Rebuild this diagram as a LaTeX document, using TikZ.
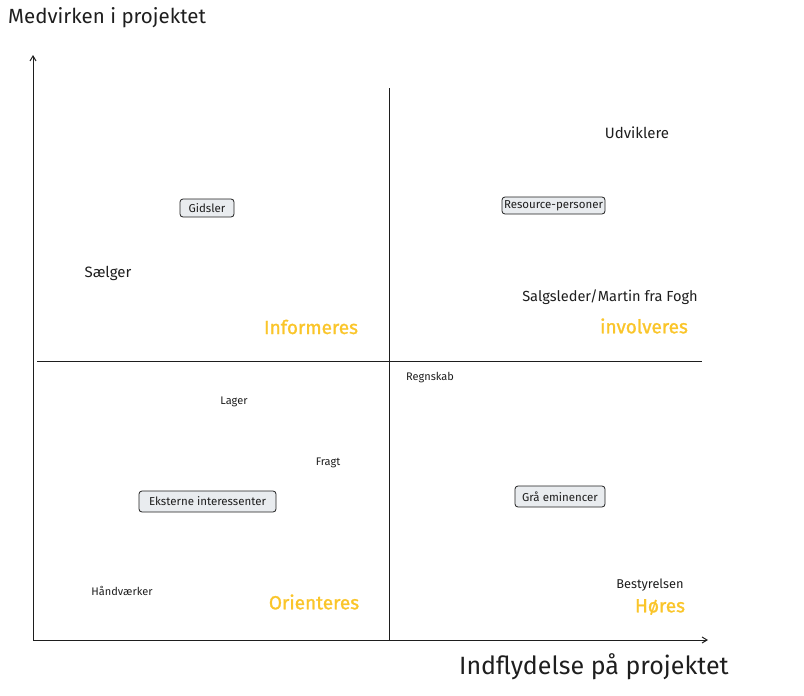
\documentclass[tikz,border=0pt]{standalone}
\usepackage{fontspec}
\setmainfont{Fira Sans}
\newfontfamily\yelfont[FakeBold=1.3]{Fira Sans}
\usetikzlibrary{arrows.meta}
\definecolor{ink}{HTML}{1E1E1E}
\definecolor{boxfill}{HTML}{E9ECEF}
\definecolor{yel}{HTML}{FAC52A}
\tikzset{
  axis/.style={draw=ink, line width=1pt, -{Straight Barb[length=5pt,width=6pt]}},
  divider/.style={draw=ink, line width=0.8pt},
  lbl/.style={text=ink, inner sep=0pt, font=\fontsize{15}{18}\selectfont},
  small/.style={text=ink, inner sep=0pt, font=\fontsize{11}{13}\selectfont},
  tag/.style={draw=ink, fill=boxfill, rounded corners=3pt, line width=0.8pt, text=ink, inner sep=0pt, font=\fontsize{11.5}{13}\selectfont},
  quad/.style={text=yel, inner sep=0pt, font=\yelfont\fontsize{19}{22}\selectfont},
  title/.style={text=ink, inner sep=0pt, font=\fontsize{20.5}{24}\selectfont},
}
\begin{document}
\begin{tikzpicture}[x=1pt,y=-1pt]
\useasboundingbox (0,0) rectangle (804,696);
% axes
\coordinate (O) at (33,640);
\coordinate (Ytop) at (33,55);
\coordinate (Xend) at (708,640);
\coordinate (Vt) at (389,88);
\coordinate (Vb) at (389,640);
\coordinate (Hl) at (37,361);
\coordinate (Hr) at (702,361);
\draw[divider] (Vt) -- (Vb);
\draw[divider] (Hl) -- (Hr);
\draw[axis] (O) -- (Ytop);
\draw[axis] (O) -- (Xend);
% titles
\node[title, anchor=west] (ty) at (8,18) {Medvirken i projektet};
\node[title, anchor=west, font=\fontsize{25}{28}\selectfont] (tx) at (459,667) {Indflydelse på projektet};
% labels
\node[lbl] (udv) at (637,133) {Udviklere};
\node[tag, minimum width=54pt, minimum height=18pt] (gid) at (207,208) {Gidsler};
\node[tag, minimum width=103pt, minimum height=17pt] (res) at (553.5,205.5) {Resource-personer};
\node[lbl] (sae) at (108,273) {Sælger};
\node[lbl, font=\fontsize{14.6}{17}\selectfont] (sal) at (610,297) {Salgsleder/Martin fra Fogh};
\node[quad] (inf) at (311,327) {Informeres};
\node[quad] (inv) at (644,326) {involveres};
\node[small] (reg) at (430,378) {Regnskab};
\node[small] (lag) at (234,402) {Lager};
\node[small] (fra) at (328,463) {Fragt};
\node[tag, minimum width=137pt, minimum height=21pt] (eks) at (207.5,501.5) {Eksterne interessenter};
\node[tag, minimum width=90pt, minimum height=21pt] (gra) at (560,496.5) {Grå eminencer};
\node[small] (haa) at (122,591) {Håndværker};
\node[quad] (ori) at (314,602) {Orienteres};
\node[small, font=\fontsize{12.8}{15}\selectfont] (bes) at (650,585) {Bestyrelsen};
\node[quad] (hor) at (660,607) {Høres};
\end{tikzpicture}
\end{document}
